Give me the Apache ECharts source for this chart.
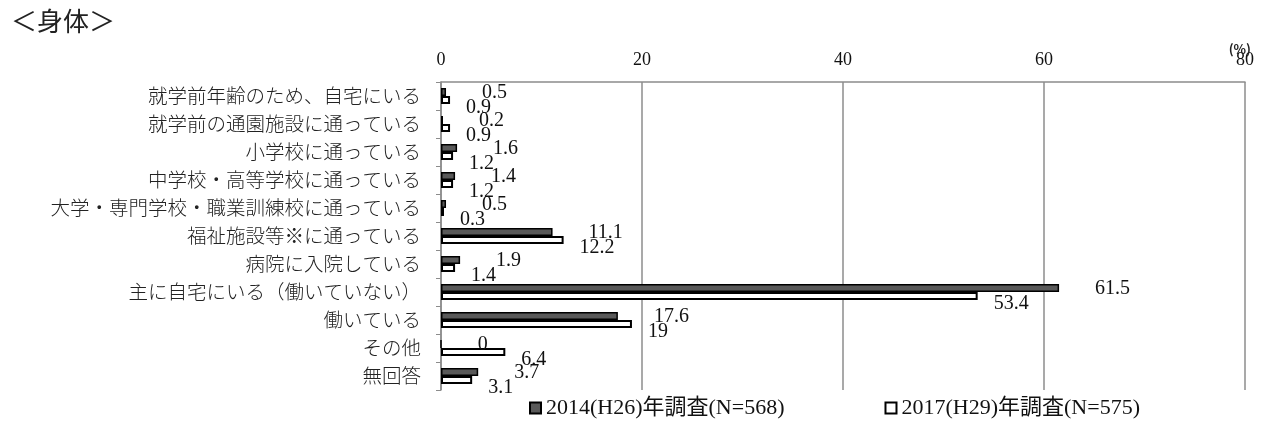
<!DOCTYPE html>
<html>
<head>
<meta charset="utf-8">
<script src="https://cdn.jsdelivr.net/npm/echarts@6/dist/echarts.min.js"></script>
<style>
  html, body { margin: 0; padding: 0; background: #fff; }
  #chart { width: 1268px; height: 423px; }
</style>
</head>
<body>
<div id="chart"></div>
<script>
// Survey categories (top to bottom)
const categories = [
  '就学前年齢のため、自宅にいる',
  '就学前の通園施設に通っている',
  '小学校に通っている',
  '中学校・高等学校に通っている',
  '大学・専門学校・職業訓練校に通っている',
  '福祉施設等※に通っている',
  '病院に入院している',
  '主に自宅にいる（働いていない）',
  '働いている',
  'その他',
  '無回答'
];

// Percentages per survey year
const values2014 = [0.5, 0.2, 1.6, 1.4, 0.5, 11.1, 1.9, 61.5, 17.6, 0, 3.7];
const values2017 = [0.9, 0.9, 1.2, 1.2, 0.3, 12.2, 1.4, 53.4, 19, 6.4, 3.1];

const seriesNames = ['2014(H26)年調査(N=568)', '2017(H29)年調査(N=575)'];
const axisTicks = [0, 20, 40, 60, 80];

const serif = '"Liberation Serif", "DejaVu Serif", "Noto Sans CJK JP", serif';
const gothic = '"Noto Sans CJK JP", "Noto Sans", sans-serif';

const chart = echarts.init(document.getElementById('chart'));
chart.setOption({
  animation: false,
  backgroundColor: '#ffffff',
  title: [
    {
      text: '＜身体＞',
      left: 6, top: 3,
      textStyle: { fontFamily: gothic, fontSize: 26, fontWeight: 'normal', color: '#222' }
    },
    {
      text: '(%)',
      right: 12, top: 38,
      textStyle: { fontFamily: gothic, fontSize: 13, fontWeight: 'bold', color: '#222' }
    }
  ],
  legend: {
    bottom: -1,
    left: 524,
    itemGap: 100,
    itemWidth: 11,
    itemHeight: 11,
    textStyle: { fontFamily: serif, fontSize: 22, color: '#111' },
    data: [
      { name: seriesNames[0], icon: 'rect' },
      { name: seriesNames[1], icon: 'rect' }
    ]
  },
  grid: { left: 441, right: 23, top: 82, bottom: 33, containLabel: false },
  xAxis: {
    type: 'value',
    position: 'top',
    min: axisTicks[0],
    max: axisTicks[axisTicks.length - 1],
    interval: 20,
    axisLine: { show: true, lineStyle: { color: '#8c8c8c', width: 1.5 } },
    axisTick: { show: false },
    axisLabel: { fontFamily: serif, fontSize: 18, color: '#111', margin: 13 },
    splitLine: { show: true, lineStyle: { color: '#8c8c8c', width: 1.5 } }
  },
  yAxis: {
    type: 'category',
    inverse: true,
    data: categories,
    axisLine: { show: true, lineStyle: { color: '#8c8c8c', width: 1.5 } },
    axisTick: { show: true, length: 5, lineStyle: { color: '#8c8c8c' } },
    axisLabel: { fontFamily: gothic, fontSize: 19.5, fontWeight: 300, color: '#222', margin: 20 }
  },
  series: [
    {
      name: seriesNames[0],
      type: 'bar',
      data: values2014,
      barWidth: 8,
      barGap: '0%',
      itemStyle: { color: '#595959', borderColor: '#000', borderWidth: 1.5 },
      label: {
        show: true, position: 'right', distance: 36, offset: [0, 1],
        fontFamily: serif, fontSize: 20, color: '#111'
      }
    },
    {
      name: seriesNames[1],
      type: 'bar',
      data: values2017,
      barWidth: 8,
      barGap: '0%',
      itemStyle: { color: '#ffffff', borderColor: '#000', borderWidth: 2 },
      label: {
        show: true, position: 'right', distance: 16, offset: [0, 8],
        fontFamily: serif, fontSize: 20, color: '#111'
      }
    }
  ]
});
</script>
</body>
</html>
